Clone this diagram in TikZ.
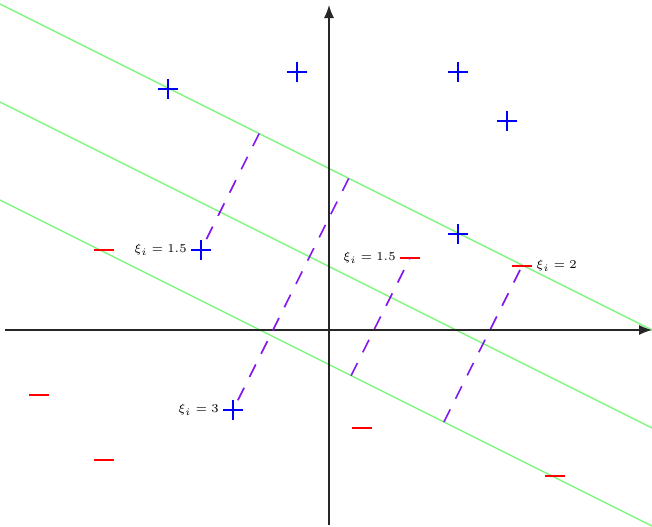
\documentclass[tikz,border=0pt]{standalone}
\usetikzlibrary{calc,arrows.meta}
\definecolor{lgreen}{RGB}{130,245,130}
\definecolor{dpurple}{RGB}{130,20,240}
\tikzset{
  axis/.style={draw=black!85,line width=0.6pt,-{Latex[length=6.5pt,width=5pt]}},
  gline/.style={draw=lgreen,line width=0.7pt},
  slack/.style={draw=dpurple,line width=0.8pt,dash pattern=on 7pt off 6pt},
  plusm/.style={draw=none,minimum size=10pt,inner sep=0pt,path picture={
      \draw[blue,line width=0.9pt] (path picture bounding box.west) -- (path picture bounding box.east)
        (path picture bounding box.north) -- (path picture bounding box.south);}},
  negm/.style={draw=none,minimum width=10pt,minimum height=2pt,inner sep=0pt,path picture={
      \draw[red,line width=1.1pt] (path picture bounding box.west) -- (path picture bounding box.east);}},
  lab/.style={font=\fontsize{5.9pt}{7pt}\selectfont,inner sep=1pt}
}
\begin{document}
\begin{tikzpicture}[x=0.5pt,y=-0.5pt]
\useasboundingbox (0,0) rectangle (652,526);
% green lines
\coordinate (a1) at (0,4);   \coordinate (b1) at (652,330);
\coordinate (a2) at (0,102); \coordinate (b2) at (652,428);
\coordinate (a3) at (0,200); \coordinate (b3) at (652,526);
\draw[gline] (a1) -- (b1);
\draw[gline] (a2) -- (b2);
\draw[gline] (a3) -- (b3);
% axes
\coordinate (xl) at (5,330); \coordinate (xr) at (652,330);
\coordinate (yb) at (329,525); \coordinate (yt) at (329,5);
\draw[axis] (xl) -- (xr);
\draw[axis] (yb) -- (yt);
% points
\node[plusm] (p1) at (168,89) {};
\node[plusm] (p2) at (297,72) {};
\node[plusm] (p3) at (458,72) {};
\node[plusm] (p4) at (507,121) {};
\node[plusm] (p5) at (458,234) {};
\node[plusm] (p6) at (201,250) {};
\node[plusm] (p7) at (233,410) {};
\node[negm] (n1) at (104,250) {};
\node[negm] (n2) at (39,395) {};
\node[negm] (n3) at (104,460) {};
\node[negm] (n4) at (362,428) {};
\node[negm] (n5) at (555,476) {};
\node[negm] (n6) at (410,258) {};
\node[negm] (n7) at (522,266) {};
% slack lines
\coordinate (f6) at ($(a1)!(p6.center)!(b1)$);
\coordinate (f7) at ($(a1)!(p7.center)!(b1)$);
\coordinate (f8) at ($(a3)!(n6.center)!(b3)$);
\coordinate (f9) at ($(a3)!(n7.center)!(b3)$);
\draw[slack] (f6) -- (p6.center);
\draw[slack] (f7) -- (p7.center);
\draw[slack] (f8) -- (n6.center);
\draw[slack] (f9) -- (n7.center);
% labels
\node[lab,anchor=east] (l1) at (189,250) {$\xi_i = 1.5$};
\node[lab,anchor=east] (l2) at (398,258) {$\xi_i = 1.5$};
\node[lab,anchor=west] (l3) at (534,266) {$\xi_i = 2$};
\node[lab,anchor=east] (l4) at (221,410) {$\xi_i = 3$};
\end{tikzpicture}
\end{document}
